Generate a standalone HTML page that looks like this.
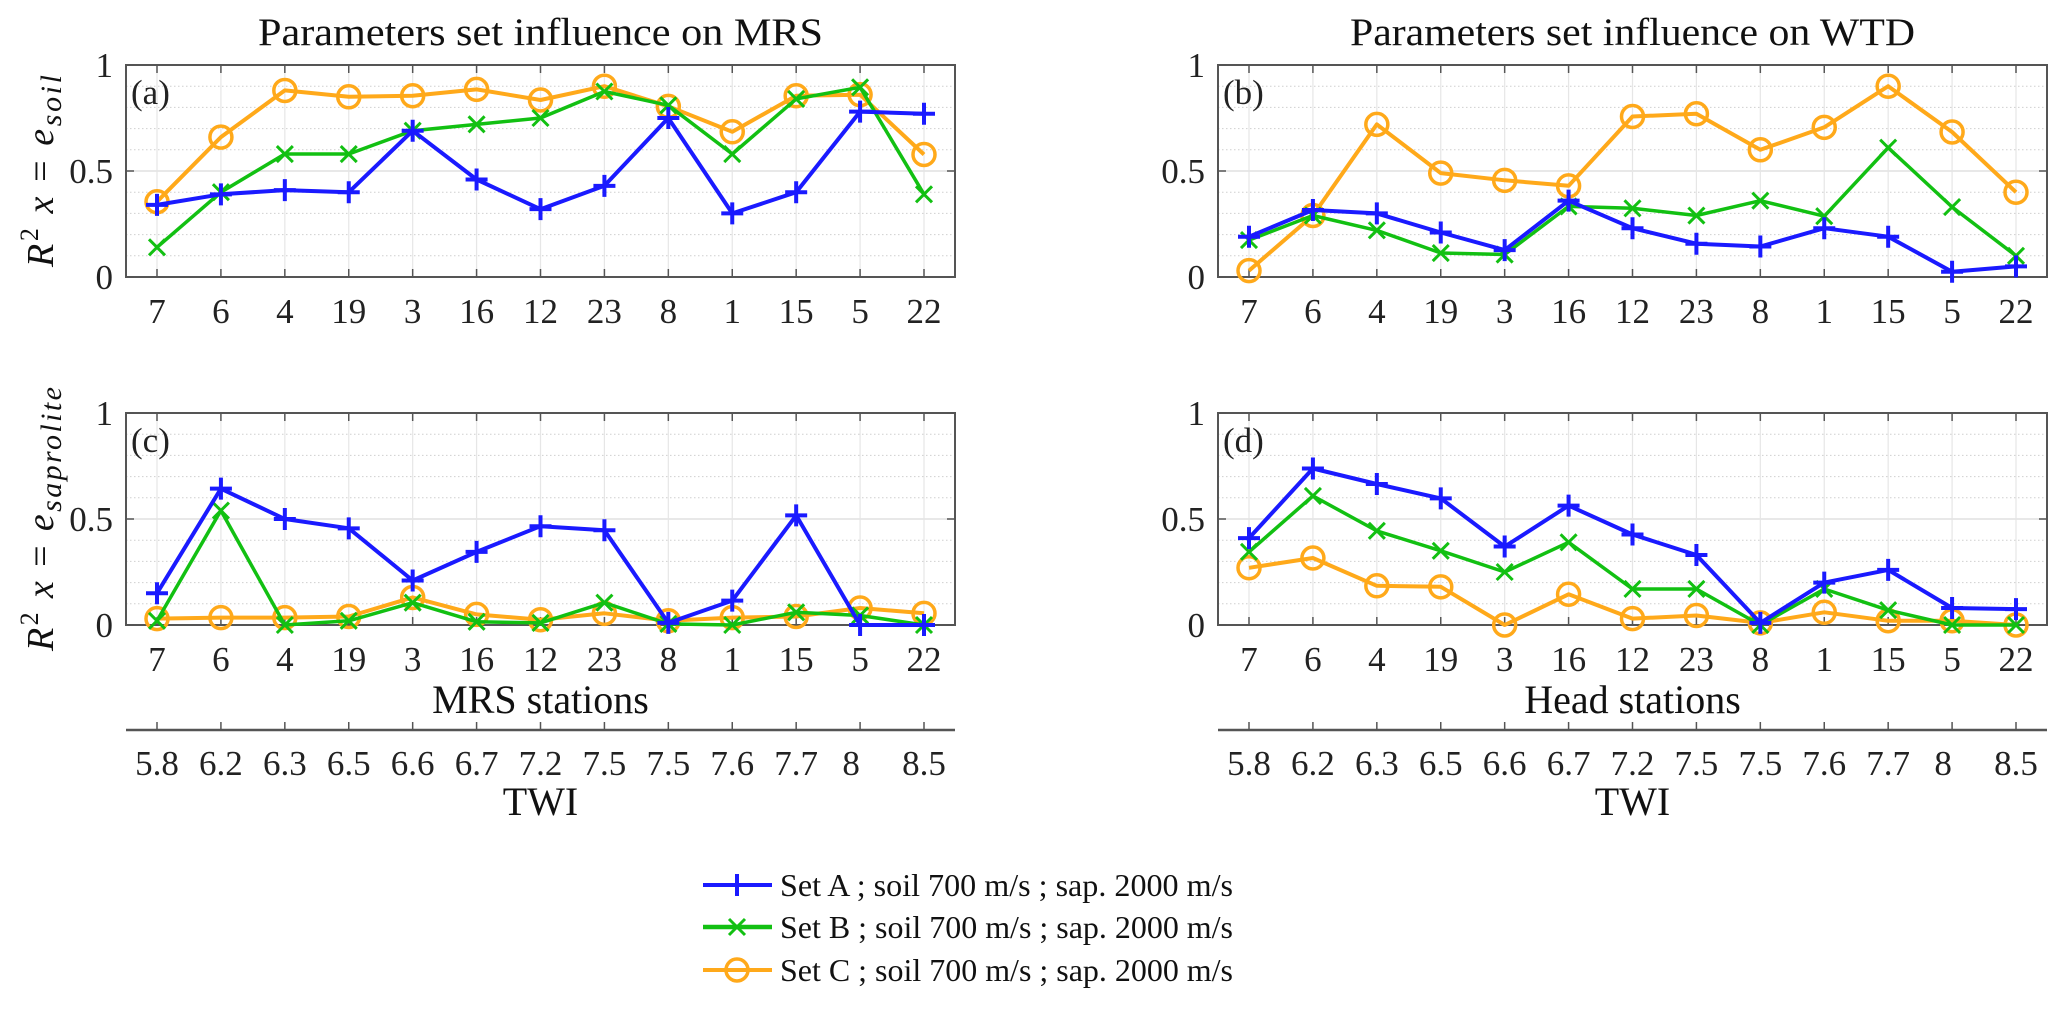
<!DOCTYPE html>
<html><head><meta charset="utf-8"><style>
html,body{margin:0;padding:0;background:#fff;}
svg{display:block;font-family:"Liberation Serif",serif;}
</style></head><body>
<svg id="fig" width="2067" height="1011" viewBox="0 0 2067 1011" xmlns="http://www.w3.org/2000/svg"></svg>
<script>
const stations = ["7","6","4","19","3","16","12","23","8","1","15","5","22"];
const twi = ["5.8","6.2","6.3","6.5","6.6","6.7","7.2","7.5","7.5","7.6","7.7","8","8.5"];
const yTicks = [0, 0.5, 1];
const yTickLabels = ["0","0.5","1"];
const aSetA = [0.34,0.39,0.41,0.40,0.69,0.46,0.32,0.43,0.75,0.30,0.40,0.78,0.77];
const aSetB = [0.14,0.40,0.58,0.58,0.69,0.72,0.75,0.875,0.81,0.58,0.84,0.895,0.39];
const aSetC = [0.355,0.66,0.88,0.85,0.855,0.885,0.835,0.90,0.805,0.685,0.855,0.86,0.578];
const bSetA = [0.19,0.316,0.30,0.21,0.127,0.36,0.23,0.157,0.144,0.23,0.19,0.025,0.05];
const bSetB = [0.174,0.29,0.22,0.113,0.106,0.333,0.324,0.29,0.36,0.287,0.61,0.33,0.10];
const bSetC = [0.03,0.29,0.72,0.49,0.456,0.43,0.757,0.77,0.60,0.706,0.90,0.684,0.40];
const cSetA = [0.15,0.643,0.50,0.456,0.21,0.345,0.466,0.447,0.01,0.115,0.517,0.0,0.0];
const cSetB = [0.02,0.54,0.0,0.02,0.105,0.015,0.01,0.105,0.005,0.0,0.06,0.045,0.0];
const cSetC = [0.03,0.035,0.035,0.04,0.13,0.05,0.025,0.055,0.02,0.035,0.04,0.08,0.055];
const dSetA = [0.41,0.738,0.665,0.597,0.37,0.563,0.427,0.33,0.01,0.2,0.26,0.08,0.075];
const dSetB = [0.345,0.609,0.444,0.35,0.25,0.39,0.17,0.17,0.0,0.17,0.07,0.0,0.0];
const dSetC = [0.27,0.316,0.185,0.18,0.0,0.145,0.03,0.045,0.01,0.06,0.02,0.02,0.0];
const legendLabels = ["Set A ; soil 700 m/s ; sap. 2000 m/s","Set B ; soil 700 m/s ; sap. 2000 m/s","Set C ; soil 700 m/s ; sap. 2000 m/s"];

const NS="http://www.w3.org/2000/svg";
const svg=document.getElementById('fig');
const COL={A:"#1a1aff",B:"#12c012",C:"#ffa91a"};
function el(tag,attrs,parent){const e=document.createElementNS(NS,tag);for(const k in attrs)e.setAttribute(k,attrs[k]);(parent||svg).appendChild(e);return e;}
function txt(s,attrs,parent){const e=el('text',attrs,parent);e.textContent=s;return e;}

function marker(g,kind,x,y){
  if(kind==='A'){
    const m=el('path',{d:`M${x-11},${y}H${x+11}M${x},${y-11}V${y+11}`,stroke:COL.A,'stroke-width':4,fill:'none'},g);
    
    
  }else if(kind==='B'){
    const m=el('path',{d:`M${x-8},${y-8}L${x+8},${y+8}M${x-8},${y+8}L${x+8},${y-8}`,stroke:COL.B,'stroke-width':3,fill:'none'},g);
    
    
  }else{
    const m=el('circle',{cx:x,cy:y,r:11,stroke:COL.C,'stroke-width':3.5,fill:'none'},g);
    
    
  }
}

function panel(id,L,R,T,B,series,letter,title,ylab,ylen,xlab){
  const g=el('g',{});
  
  
  const x0=L+31, step=(R-L-62)/(stations.length-1);
  const xs=i=>x0+i*step;
  const ys=v=>B-(B-T)*v;
  for(let k=1;k<10;k++){ if(k===5)continue;
    el('line',{x1:L,x2:R,y1:ys(k/10),y2:ys(k/10),stroke:'#cfcfcf','stroke-width':1,'stroke-dasharray':'1.5 2.5'},g);}
  el('line',{x1:L,x2:R,y1:ys(0.5),y2:ys(0.5),stroke:'#e0e0e0','stroke-width':1.5},g);
  stations.forEach((s,i)=>el('line',{x1:xs(i),x2:xs(i),y1:T,y2:B,stroke:'#e6e6e6','stroke-width':1.2},g));
  const box=el('rect',{x:L,y:T,width:R-L,height:B-T,fill:'none',stroke:'#555','stroke-width':2},g);
  
  
  stations.forEach((s,i)=>{
    el('line',{x1:xs(i),x2:xs(i),y1:B,y2:B-8,stroke:'#555','stroke-width':1.5},g);
    el('line',{x1:xs(i),x2:xs(i),y1:T,y2:T+8,stroke:'#555','stroke-width':1.5},g);
    const t=txt(s,{x:xs(i),y:B+46,'font-size':35,'text-anchor':'middle',fill:'#222'},g);
    
    
  });
  yTicks.forEach((v,i)=>{
    el('line',{x1:L,x2:L+8,y1:ys(v),y2:ys(v),stroke:'#555','stroke-width':1.5},g);
    el('line',{x1:R,x2:R-8,y1:ys(v),y2:ys(v),stroke:'#555','stroke-width':1.5},g);
    const t=txt(yTickLabels[i],{x:L-13,y:ys(v)+12,'font-size':35,'text-anchor':'end',fill:'#222'},g);
    
    
  });
  const lt=txt('('+letter+')',{x:L+5,y:T+39,'font-size':35,fill:'#222'},g);
  
  
  ['C','B','A'].forEach(k=>{
    const vals=series[k];
    const sg=el('g',{},g);
    
    
    const pts=vals.map((v,i)=>xs(i).toFixed(1)+','+ys(v).toFixed(1)).join(' ');
    const pl=el('polyline',{points:pts,fill:'none',stroke:COL[k],'stroke-width':k==='B'?3.5:4,'stroke-linejoin':'round'},sg);
    
    
    vals.forEach((v,i)=>marker(sg,k,xs(i),ys(v)));
  });
  if(title){
    const t=txt(title,{x:(L+R)/2,y:T-20,'font-size':39,'text-anchor':'middle',fill:'#111',textLength:565,lengthAdjust:'spacingAndGlyphs'},g);
    
    
  }
  if(ylab){
    const cy=(T+B)/2;
    const t=el('text',{x:0,y:0,'font-size':38,'text-anchor':'middle',fill:'#111',transform:`translate(53,${cy}) rotate(-90)`,textLength:ylen,lengthAdjust:'spacing'},g);
    
    
    const parts=[['R',{'font-style':'italic'}],['2',{'font-size':26,dy:-15}],['  ',{dy:15}],['x',{'font-style':'italic'}],[' = ',{}],['e',{'font-style':'italic'}],[ylab,{'font-style':'italic','font-size':30,dy:8}]];
    parts.forEach(([s,a])=>{const ts=el('tspan',a,t);ts.textContent=s;});
  }
  if(xlab){
    const t=txt(xlab,{x:(L+R)/2,y:B+88,'font-size':40,'text-anchor':'middle',fill:'#111'},g);
    
    
    const ag=el('g',{},g);
    
    
    el('line',{x1:L,x2:R,y1:730,y2:730,stroke:'#555','stroke-width':2.5},ag);
    twi.forEach((s,i)=>{
      el('line',{x1:xs(i),x2:xs(i),y1:730,y2:722,stroke:'#555','stroke-width':1.5},ag);
      const lx=(i===11)?xs(i)-9:xs(i);
      const tt=txt(s,{x:lx,y:775,'font-size':35,'text-anchor':'middle',fill:'#222'},ag);
      
      
    });
    const tw=txt('TWI',{x:(L+R)/2,y:815,'font-size':40,'text-anchor':'middle',fill:'#111'},ag);
    
    
  }
}

panel('a',126,955,65,277,{A:aSetA,B:aSetB,C:aSetC},'a','Parameters set influence on MRS','soil',192,null);
panel('b',1218,2047,65,277,{A:bSetA,B:bSetB,C:bSetC},'b','Parameters set influence on WTD',null,0,null);
panel('c',126,955,413,625,{A:cSetA,B:cSetB,C:cSetC},'c',null,'saprolite',264,'MRS stations');
panel('d',1218,2047,413,625,{A:dSetA,B:dSetB,C:dSetC},'d',null,null,0,'Head stations');

const lg=el('g',{});


['A','B','C'].forEach((k,i)=>{
  const y=[885,927,970][i];
  const eg=el('g',{},lg);
  
  
  el('line',{x1:703,x2:772,y1:y,y2:y,stroke:COL[k],'stroke-width':k==='B'?4.5:4},eg);
  marker(eg,k,737,y);
  const t=txt(legendLabels[i],{x:780,y:y+11,'font-size':32,fill:'#111',textLength:453,lengthAdjust:'spacingAndGlyphs'},eg);
  
  
});
</script>
</body></html>
